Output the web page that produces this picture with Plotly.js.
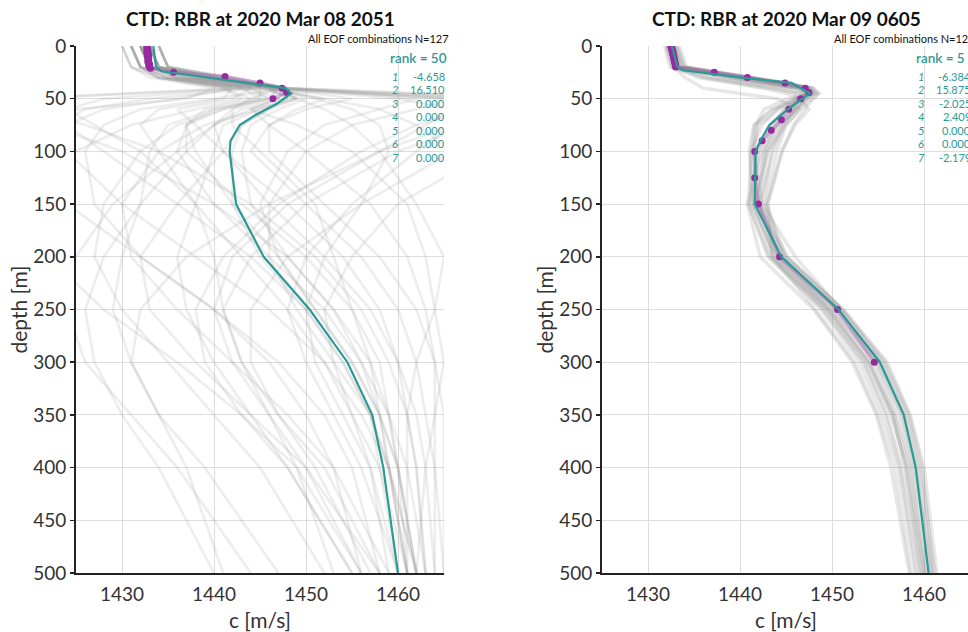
<!DOCTYPE html>
<html>
<head>
<meta charset="utf-8">
<script src="https://cdn.plot.ly/plotly-3.0.1.min.js"></script>
<style>
  html, body { margin: 0; padding: 0; overflow: hidden; background: #fff; }
  #chart { width: 1000px; height: 632px; }
</style>
</head>
<body>
<div id="chart"></div>
<script>
// ---------- Cast A: 2020 Mar 08 2051 ----------
const titleA = 'CTD: RBR at 2020 Mar 08 2051';
const rankA = 50;
const coefA = [-4.658, 16.510, 0.000, 0.000, 0.000, 0.000, 0.000];

// measured sound speed (CTD)
const obsDepthA = [0,1,2,3,4,5,6,7,8,9,10,11,12,13,14,15,16,17,18,19,20,21,25,29,35,40,44,50];
const obsSpeedA = [1432.7,1432.7,1432.8,1432.7,1432.8,1432.8,1432.7,1432.8,1432.9,1432.8,1432.8,1432.9,1432.8,1432.9,1432.9,1432.8,1432.9,1433.0,1433.0,1432.9,1433.0,1433.1,1435.6,1441.2,1445.0,1447.4,1447.9,1446.4];

// best-fit EOF reconstruction
const fitDepthA = [0,20,24,40,45,55,65,75,90,100,150,200,250,300,350,400,500];
const fitSpeedA = [1433.4,1433.7,1434.3,1447.7,1448.4,1446.8,1444.6,1442.8,1441.8,1441.7,1442.4,1445.4,1450.4,1454.5,1457.2,1458.4,1460.0];

// other EOF combinations
const ensDepthA = [0,20,30,40,50,60,75,100,150,200,250,300,350,400,500];
const ensSpeedA = [
  [1432,1433,1438,1447,1449,1446,1443,1442,1442,1445,1450,1454,1457,1458,1460],
  [1431,1432,1436,1445,1452,1458,1462,1466,1470,1468,1466,1465,1464,1463,1462],
  [1433,1434,1440,1448,1440,1432,1428,1426,1427,1432,1440,1447,1452,1455,1458],
  [1434,1435,1441,1446,1470,1480,1475,1470,1460,1455,1452,1453,1455,1457,1459],
  [1430,1431,1433,1440,1437,1425,1420,1418,1424,1432,1440,1446,1450,1453,1456],
  [1432,1433,1437,1446,1448,1445,1441,1440,1438,1436,1437,1440,1444,1448,1455],
  [1433,1434,1439,1447,1455,1450,1446,1444,1450,1456,1460,1462,1463,1464,1465],
  [1431,1432,1435,1443,1446,1440,1435,1433,1432,1430,1429,1431,1434,1437,1441],
  [1434,1435,1442,1448,1465,1470,1466,1462,1455,1450,1448,1450,1453,1456,1460],
  [1432,1433,1436,1444,1442,1436,1438,1441,1448,1454,1458,1460,1461,1462,1463],
  [1433,1434,1438,1446,1447,1443,1440,1437,1432,1428,1426,1427,1430,1434,1440],
  [1432,1433,1437,1445,1449,1452,1455,1458,1462,1465,1464,1462,1461,1461,1461],
  [1431,1432,1434,1441,1443,1438,1431,1425,1420,1422,1428,1436,1443,1449,1456],
  [1433,1434,1440,1447,1446,1442,1442,1445,1451,1453,1455,1457,1458,1459,1461],
  [1432,1433,1438,1446,1460,1466,1463,1458,1448,1442,1440,1442,1446,1450,1456],
  [1434,1435,1441,1447,1444,1439,1437,1436,1440,1446,1452,1456,1459,1460,1462],
  [1430,1431,1434,1442,1436,1428,1424,1428,1436,1444,1450,1454,1457,1459,1461],
  [1433,1434,1439,1447,1450,1447,1444,1443,1444,1448,1453,1457,1459,1461,1463],
  [1432,1433,1436,1444,1447,1444,1449,1455,1461,1463,1464,1465,1466,1466,1466],
  [1431,1432,1435,1442,1441,1434,1432,1434,1438,1440,1441,1443,1446,1449,1453],
  [1433,1434,1440,1448,1475,1478,1472,1466,1456,1448,1444,1444,1447,1451,1457],
  [1432,1433,1437,1445,1445,1440,1437,1437,1443,1450,1455,1458,1459,1460,1461],
  [1434,1435,1440,1446,1448,1446,1443,1441,1436,1432,1433,1438,1444,1450,1458],
  [1431,1432,1434,1443,1420,1415,1422,1430,1440,1448,1453,1456,1458,1459,1461],
  [1433,1434,1439,1447,1449,1444,1440,1436,1429,1425,1424,1426,1431,1436,1444],
  [1432,1433,1438,1446,1452,1449,1446,1446,1452,1458,1462,1464,1465,1465,1465],
  [1431,1432,1434,1442,1468,1472,1468,1460,1450,1444,1441,1443,1447,1452,1458],
  [1433,1434,1439,1447,1466,1462,1455,1450,1446,1446,1449,1453,1457,1459,1462],
  [1432,1433,1436,1444,1428,1424,1427,1432,1438,1443,1448,1452,1455,1458,1461],
  [1434,1435,1441,1448,1447,1444,1446,1450,1457,1461,1463,1464,1464,1464,1464],
  [1431,1432,1435,1443,1445,1441,1436,1432,1428,1427,1430,1435,1440,1445,1452],
  [1433,1434,1439,1447,1472,1468,1462,1456,1447,1441,1438,1439,1443,1448,1455],
  [1432,1433,1437,1445,1433,1426,1423,1424,1430,1438,1446,1452,1456,1459,1462],
  [1430,1431,1434,1441,1444,1442,1440,1441,1446,1452,1457,1460,1462,1463,1464],
  [1434,1435,1442,1448,1462,1458,1452,1448,1445,1447,1451,1455,1458,1460,1462],
  [1432,1433,1438,1446,1449,1445,1439,1434,1430,1431,1436,1442,1448,1453,1459],
  [1431,1432,1435,1443,1418,1420,1426,1434,1444,1451,1456,1459,1461,1462,1463],
  [1433,1434,1440,1447,1451,1455,1458,1459,1456,1452,1450,1451,1454,1457,1460],
  [1432,1433,1436,1444,1446,1441,1437,1438,1442,1447,1451,1455,1458,1460,1462],
  [1434,1435,1441,1448,1478,1474,1466,1458,1446,1437,1432,1431,1434,1439,1447]
];

// ---------- Cast B: 2020 Mar 09 0605 ----------
const titleB = 'CTD: RBR at 2020 Mar 09 0605';
const rankB = 5;
const coefB = [-6.384, 15.875, -2.025, 2.409, 0.000, 0.000, -2.179];

const obsDepthB = [0,1,2,3,4,5,6,7,8,9,10,11,12,13,14,15,16,17,18,19,20,25,30,35,40,44,50,60,70,80,90,100,125,150,200,250,300];
const obsSpeedB = [1432.5,1432.5,1432.6,1432.6,1432.6,1432.7,1432.7,1432.7,1432.7,1432.8,1432.8,1432.8,1432.8,1432.9,1432.9,1432.9,1432.9,1433.0,1433.0,1433.0,1433.0,1437.2,1440.8,1444.9,1447.1,1447.5,1446.6,1445.3,1444.5,1443.4,1442.4,1441.6,1441.6,1442.0,1444.3,1450.6,1454.6];

const fitDepthB = [0,20,23,30,35,45,60,75,90,100,150,200,250,300,350,400,500];
const fitSpeedB = [1432.6,1433.2,1433.8,1440.2,1445.6,1447.6,1445.2,1443.2,1442.2,1441.7,1441.6,1444.5,1450.7,1455.2,1457.8,1459.1,1460.5];

const ensDepthB = [0,20,30,40,45,50,60,75,100,150,200,250,300,350,400,500];
const ensSpeedB = [
  [1432.4,1433.0,1439.5,1446.5,1447.2,1446.5,1445.0,1443.2,1442.0,1441.4,1443.8,1449.8,1454.2,1456.8,1458.4,1460.0],
  [1432.8,1433.5,1441.0,1447.5,1448.0,1447.2,1446.0,1444.5,1443.0,1442.2,1444.8,1450.5,1455.0,1457.6,1459.0,1460.8],
  [1432.2,1432.8,1436.0,1443.0,1446.5,1447.0,1446.2,1444.0,1442.5,1441.0,1443.0,1449.0,1453.5,1456.0,1457.6,1459.5],
  [1433.0,1433.8,1440.5,1447.8,1448.3,1447.0,1444.2,1442.0,1441.4,1442.0,1445.2,1451.0,1455.6,1458.2,1459.6,1461.2],
  [1432.0,1432.6,1435.5,1442.5,1445.0,1446.5,1447.5,1446.0,1444.5,1443.0,1443.5,1448.2,1452.5,1455.0,1456.8,1458.6],
  [1432.5,1433.2,1440.0,1447.2,1447.8,1446.0,1443.6,1441.6,1441.2,1441.2,1444.0,1450.0,1454.8,1457.4,1458.8,1460.3],
  [1433.4,1434.2,1441.5,1448.0,1448.5,1447.8,1446.5,1445.0,1444.0,1442.8,1445.0,1451.2,1456.0,1458.5,1460.0,1461.4],
  [1431.8,1432.4,1437.5,1445.0,1446.8,1446.2,1444.8,1443.5,1442.2,1440.8,1442.2,1448.0,1452.2,1454.8,1456.4,1458.4],
  [1432.9,1433.6,1440.8,1447.4,1447.4,1445.2,1442.6,1441.8,1441.5,1442.4,1446.0,1451.0,1455.4,1458.0,1459.4,1460.9],
  [1432.3,1432.9,1438.5,1446.0,1447.0,1446.8,1445.6,1443.8,1442.6,1441.8,1444.2,1450.2,1454.6,1457.0,1458.6,1460.2],
  [1433.2,1434.0,1441.2,1447.9,1448.6,1448.0,1447.0,1445.8,1444.6,1443.0,1444.6,1449.6,1454.0,1456.6,1458.0,1459.8],
  [1432.6,1433.3,1439.0,1446.2,1447.5,1446.0,1444.0,1442.4,1441.2,1440.9,1443.2,1449.4,1453.8,1456.4,1458.2,1460.0],
  [1432.0,1432.7,1436.5,1444.0,1446.0,1446.4,1445.8,1444.8,1443.6,1442.2,1443.6,1448.8,1453.0,1455.4,1457.2,1459.0],
  [1433.0,1433.9,1441.0,1447.6,1448.1,1446.6,1443.4,1441.5,1441.0,1441.5,1445.0,1451.2,1455.8,1458.4,1459.8,1461.0],
  [1432.7,1433.4,1440.0,1447.0,1447.9,1447.4,1446.2,1444.2,1442.8,1441.9,1444.4,1450.6,1455.2,1457.8,1459.2,1460.6],
  [1432.4,1433.1,1439.2,1446.4,1447.6,1447.2,1446.0,1444.6,1443.4,1442.6,1444.0,1449.2,1453.4,1455.8,1457.4,1459.2],
  [1432.2,1432.8,1434.0,1436.0,1440.0,1444.0,1446.5,1445.0,1443.0,1441.5,1443.4,1449.6,1454.0,1456.6,1458.0,1459.6]
];

const nCombos = 127;
const speedTicks = [1430, 1440, 1450, 1460];
const depthTicks = [0, 50, 100, 150, 200, 250, 300, 350, 400, 450, 500];

// ---------- styling ----------
const FONT = 'Lato, "Open Sans", sans-serif';
const TEAL = '#2a9a96';
const PURPLE = '#962a9e';

function panelTraces(xa, ya, ensDepth, ensSpeed, ensStyle, obsDepth, obsSpeed, fitDepth, fitSpeed) {
  const traces = [];
  ensSpeed.forEach(row => {
    traces.push({
      type: 'scatter', mode: 'lines', xaxis: xa, yaxis: ya,
      x: row, y: ensDepth, hoverinfo: 'skip',
      line: { color: ensStyle.color, width: ensStyle.width }
    });
  });
  traces.push({
    type: 'scatter', mode: 'lines', xaxis: xa, yaxis: ya,
    x: obsSpeed, y: obsDepth,
    line: { color: 'rgba(165,70,175,0.35)', width: 3.5 }
  });
  traces.push({
    type: 'scatter', mode: 'markers', xaxis: xa, yaxis: ya,
    x: obsSpeed, y: obsDepth,
    marker: { color: PURPLE, size: 7 }
  });
  traces.push({
    type: 'scatter', mode: 'lines', xaxis: xa, yaxis: ya,
    x: fitSpeed, y: fitDepth,
    line: { color: TEAL, width: 2.2 }
  });
  return traces;
}

const data = [].concat(
  panelTraces('x', 'y', ensDepthA, ensSpeedA, { color: 'rgba(150,150,150,0.17)', width: 2.6 },
              obsDepthA, obsSpeedA, fitDepthA, fitSpeedA),
  panelTraces('x2', 'y2', ensDepthB, ensSpeedB, { color: 'rgba(145,145,145,0.22)', width: 3.5 },
              obsDepthB, obsSpeedB, fitDepthB, fitSpeedB)
);

// header block in the upper-right corner of each panel
function panelAnnotations(xr, yr, title, rank, coefs) {
  const xd = xr + ' domain', yd = yr + ' domain';
  const ann = [];
  ann.push({ xref: xd, yref: yd, x: 0.5, y: 1, yshift: 28, xanchor: 'center', yanchor: 'middle',
             text: '<b>' + title + '</b>', showarrow: false,
             font: { family: FONT, size: 19, color: '#111' } });
  ann.push({ xref: xd, yref: yd, x: 1, y: 1, xshift: -138, yshift: 8, xanchor: 'left', yanchor: 'middle',
             text: 'All EOF combinations N=' + nCombos, showarrow: false,
             font: { family: FONT, size: 11, color: '#111' } });
  ann.push({ xref: xd, yref: yd, x: 1, y: 1, xshift: -56, yshift: -12, xanchor: 'left', yanchor: 'middle',
             text: 'rank = ' + rank, showarrow: false,
             font: { family: FONT, size: 13.5, color: TEAL, weight: 600 } });
  coefs.forEach((c, i) => {
    ann.push({ xref: xd, yref: yd, x: 1, y: 1, xshift: -49, yshift: -(30 + 13.5 * i),
               xanchor: 'center', yanchor: 'middle', text: '<i>' + (i + 1) + '</i>', showarrow: false,
               font: { family: FONT, size: 11, color: TEAL } });
    ann.push({ xref: xd, yref: yd, x: 1, y: 1, xshift: 3, yshift: -(30 + 13.5 * i),
               xanchor: 'right', yanchor: 'middle', text: c.toFixed(3), showarrow: false,
               font: { family: FONT, size: 11, color: TEAL } });
  });
  return ann;
}

function xAxis(domain, anchor) {
  return {
    domain: domain, anchor: anchor, range: [1425, 1465],
    tickvals: speedTicks, ticks: '', showgrid: true, gridcolor: '#dddddd', gridwidth: 1,
    zeroline: false, showline: true, linecolor: '#222', linewidth: 2,
    ticklabelstandoff: 3,
    tickfont: { family: FONT, size: 19, color: '#333' },
    title: { text: 'c [m/s]', font: { family: FONT, size: 21, color: '#333' }, standoff: 12 }
  };
}
function yAxis(anchor) {
  return {
    anchor: anchor, domain: [0, 1], range: [500, 0],
    tickvals: depthTicks, ticks: 'outside', ticklen: 4, tickcolor: '#222', tickwidth: 1.5,
    showgrid: true, gridcolor: '#dddddd', gridwidth: 1,
    zeroline: false, showline: true, linecolor: '#222', linewidth: 2,
    tickfont: { family: FONT, size: 19, color: '#333' },
    title: { text: 'depth [m]', font: { family: FONT, size: 21, color: '#333' }, standoff: 0 }
  };
}

const layout = {
  width: 1000, height: 632,
  margin: { l: 0, r: 0, t: 46, b: 59 },
  paper_bgcolor: '#fff', plot_bgcolor: '#fff',
  showlegend: false,
  font: { family: FONT },
  xaxis: xAxis([0.076, 0.444], 'y'),
  yaxis: yAxis('x'),
  xaxis2: xAxis([0.602, 0.970], 'y2'),
  yaxis2: yAxis('x2'),
  annotations: [].concat(
    panelAnnotations('x', 'y', titleA, rankA, coefA),
    panelAnnotations('x2', 'y2', titleB, rankB, coefB)
  )
};

Plotly.newPlot('chart', data, layout, { displayModeBar: false, staticPlot: true });
</script>
</body>
</html>
